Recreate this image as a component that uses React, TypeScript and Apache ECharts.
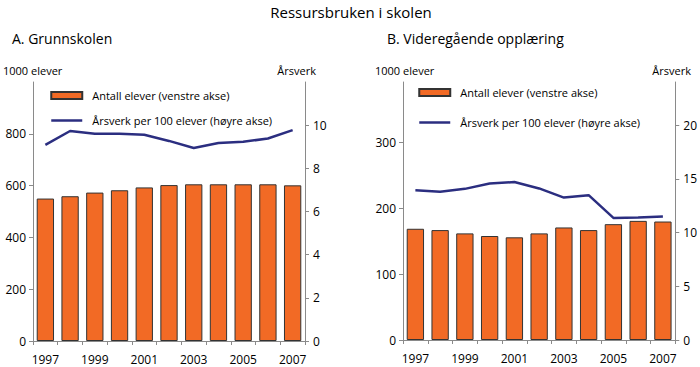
import React, { useEffect, useRef } from "react";
import * as echarts from "echarts";

const years = ["1997", "1998", "1999", "2000", "2001", "2002", "2003", "2004", "2005", "2006", "2007"];
const gsElever = [550, 559, 573, 582, 593, 602, 605, 605, 605, 605, 601];
const gsArsverk = [9.09, 9.73, 9.6, 9.6, 9.56, 9.27, 8.94, 9.17, 9.23, 9.38, 9.77];
const vgElever = [169, 167, 162, 158, 156, 162, 171, 167, 176, 181, 180];
const vgArsverk = [13.94, 13.8, 14.06, 14.56, 14.69, 14.1, 13.25, 13.47, 11.36, 11.39, 11.48];

const barName = "Antall elever (venstre akse)";
const lineName = "Årsverk per 100 elever (høyre akse)";

const FONT = "'Open Sans', sans-serif";
const AXIS_COLOR = "#8a8a8a";
const BAR_COLOR = "#F26A25";
const LINE_COLOR = "#2B2E80";

function yAxisBase(pos: "left" | "right", gridIndex: number, max: number, interval: number) {
  return {
    type: "value",
    gridIndex,
    position: pos,
    min: 0,
    max,
    interval,
    splitLine: { show: false },
    axisLine: { show: true, lineStyle: { color: AXIS_COLOR, width: 1 } },
    axisTick: { show: true, length: 4, lineStyle: { color: AXIS_COLOR } },
    axisLabel: {
      showMaxLabel: false,
      color: "#000",
      fontFamily: FONT,
      fontSize: 12,
      margin: pos === "left" ? 7 : 8,
    },
  };
}

function xAxisBase(gridIndex: number) {
  return {
    type: "category",
    gridIndex,
    data: years,
    boundaryGap: true,
    axisLine: { show: true, lineStyle: { color: AXIS_COLOR, width: 1 } },
    axisTick: { show: true, interval: 0, length: 4, lineStyle: { color: AXIS_COLOR } },
    axisLabel: { interval: 1, color: "#000", fontFamily: FONT, fontSize: 12, margin: 12 },
  };
}

function legendBase(left: number, top: number, gap: number) {
  return {
    left,
    top,
    orient: "vertical",
    itemWidth: 31,
    itemHeight: 7,
    itemGap: gap,
    data: [
      { name: barName, icon: "rect" },
      { name: lineName, itemStyle: { opacity: 0 }, lineStyle: { width: 2.5, color: LINE_COLOR } },
    ],
    textStyle: { fontFamily: FONT, fontSize: 11, color: "#000", padding: [0, 0, 0, 5] },
    selectedMode: false,
  };
}

export default function App() {
  const ref = useRef<HTMLDivElement>(null);
  useEffect(() => {
    if (!ref.current) return;
    const chart = echarts.init(ref.current, undefined, { renderer: "svg" });
    const txt = (text: string, x: number, y: number, size: number, align = "left") => ({
      type: "text",
      x,
      y,
      style: { text, fontFamily: FONT, fontSize: size, fill: "#000", textAlign: align, textVerticalAlign: "middle" },
    });
    chart.setOption({
      animation: false,
      backgroundColor: "#fff",
      grid: [
        { left: 33, right: 395, top: 82, bottom: 26 },
        { left: 403, right: 24, top: 82, bottom: 27 },
      ],
      xAxis: [xAxisBase(0), xAxisBase(1)],
      yAxis: [
        yAxisBase("left", 0, 1000, 200),
        yAxisBase("right", 0, 12, 2),
        yAxisBase("left", 1, 392, 100),
        yAxisBase("right", 1, 24, 5),
      ],
      legend: [legendBase(45, 85, 14), legendBase(413, 82, 19)],
      graphic: [
        txt("Ressursbruken i skolen", 351, 12, 15, "center"),
        txt("A. Grunnskolen", 12, 38, 14),
        txt("B. Videregående opplæring", 387, 38, 14),
        txt("1000 elever", 3, 70, 11),
        txt("Årsverk", 316, 70, 11, "right"),
        txt("1000 elever", 375, 70, 11),
        txt("Årsverk", 691, 70, 11, "right"),
      ],
      series: [
        {
          name: barName,
          type: "bar",
          xAxisIndex: 0,
          yAxisIndex: 0,
          data: gsElever,
          barWidth: "70%",
          itemStyle: { color: BAR_COLOR, borderColor: "#333", borderWidth: 1 },
        },
        {
          name: lineName,
          type: "line",
          xAxisIndex: 0,
          yAxisIndex: 1,
          data: gsArsverk,
          symbol: "none",
          lineStyle: { color: LINE_COLOR, width: 2.5 },
          itemStyle: { color: LINE_COLOR },
        },
        {
          name: barName,
          type: "bar",
          xAxisIndex: 1,
          yAxisIndex: 2,
          data: vgElever,
          barWidth: "70%",
          itemStyle: { color: BAR_COLOR, borderColor: "#333", borderWidth: 1 },
        },
        {
          name: lineName,
          type: "line",
          xAxisIndex: 1,
          yAxisIndex: 3,
          data: vgArsverk,
          symbol: "none",
          lineStyle: { color: LINE_COLOR, width: 2.5 },
          itemStyle: { color: LINE_COLOR },
        },
      ],
    });
    return () => chart.dispose();
  }, []);
  return <div ref={ref} style={{ width: 700, height: 367, position: "absolute", left: 0, top: 0 }} />;
}
